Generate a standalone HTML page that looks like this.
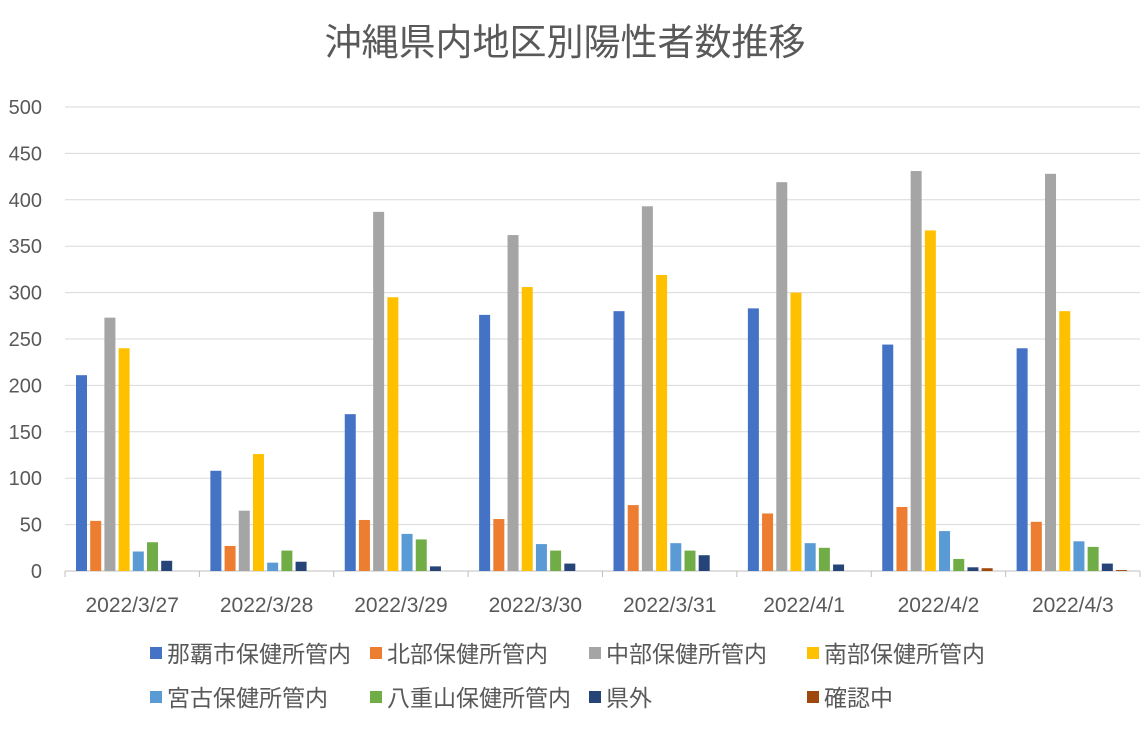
<!DOCTYPE html>
<html><head><meta charset="utf-8"><style>
body{margin:0;background:#fff;}
text{font-family:"Liberation Sans","Noto Sans CJK JP",sans-serif;}
</style></head><body>
<svg width="1147" height="725" xmlns="http://www.w3.org/2000/svg">
<rect width="1147" height="725" fill="#fff"/>
<text x="565" y="55" text-anchor="middle" font-size="37" fill="#595959">沖縄県内地区別陽性者数推移</text>
<g id="grid" stroke="#D9D9D9" stroke-width="1"></g>
<g id="ylab" font-size="20" fill="#595959" text-anchor="end"></g>
<g id="bars"></g>
<g id="xlab" font-size="21" fill="#595959" text-anchor="middle"></g>
<g font-size="23" fill="#595959">
<rect x="150" y="647" width="12" height="12" fill="#4472C4"/><text x="167" y="662">那覇市保健所管内</text>
<rect x="370" y="647" width="12" height="12" fill="#ED7D31"/><text x="387" y="662">北部保健所管内</text>
<rect x="589" y="647" width="12" height="12" fill="#A5A5A5"/><text x="606" y="662">中部保健所管内</text>
<rect x="807" y="647" width="12" height="12" fill="#FFC000"/><text x="824" y="662">南部保健所管内</text>
<rect x="150" y="691" width="12" height="12" fill="#5B9BD5"/><text x="167" y="706">宮古保健所管内</text>
<rect x="370" y="691" width="12" height="12" fill="#70AD47"/><text x="387" y="706">八重山保健所管内</text>
<rect x="589" y="691" width="12" height="12" fill="#264478"/><text x="606" y="706">県外</text>
<rect x="807" y="691" width="12" height="12" fill="#9E480E"/><text x="824" y="706">確認中</text>
</g>
</svg>
<script>
var ns="http://www.w3.org/2000/svg";
function el(p,t,a,txt){var e=document.createElementNS(ns,t);for(var k in a)e.setAttribute(k,a[k]);if(txt!=null)e.textContent=txt;document.getElementById(p).appendChild(e);}
var y0=571,k=0.928,x0=65,x1=1140,gw=(x1-x0)/8;
for(var v=0;v<=500;v+=50){var y=y0-v*k;if(v>0)el("grid","line",{x1:x0,x2:x1,y1:y,y2:y});el("ylab","text",{x:42,y:y+7},v);}
el("grid","line",{x1:x0,x2:x1,y1:y0,y2:y0,stroke:"#BFBFBF"});
for(var i=0;i<=8;i++){var x=x0+i*gw;el("grid","line",{x1:x,x2:x,y1:y0,y2:y0+6,stroke:"#BFBFBF"});}
var cols=["#4472C4","#ED7D31","#A5A5A5","#FFC000","#5B9BD5","#70AD47","#264478","#9E480E"];
var d=[[211,54,273,240,21,31,11,0],[108,27,65,126,9,22,10,0],[169,55,387,295,40,34,5,0],[276,56,362,306,29,22,8,0],[280,71,393,319,30,22,17,0],[283,62,419,300,30,25,7,0],[244,69,431,367,43,13,4,3],[240,53,428,280,32,26,8,1]];
var lab=["2022/3/27","2022/3/28","2022/3/29","2022/3/30","2022/3/31","2022/4/1","2022/4/2","2022/4/3"];
for(var g=0;g<8;g++){var gx=x0+g*gw;
for(var s=0;s<8;s++){var h=d[g][s]*k;if(h>0)el("bars","rect",{x:gx+11+s*14.2,y:y0-h,width:11,height:h,fill:cols[s]});}
el("xlab","text",{x:gx+gw/2,y:612},lab[g]);}
</script>
</body></html>
